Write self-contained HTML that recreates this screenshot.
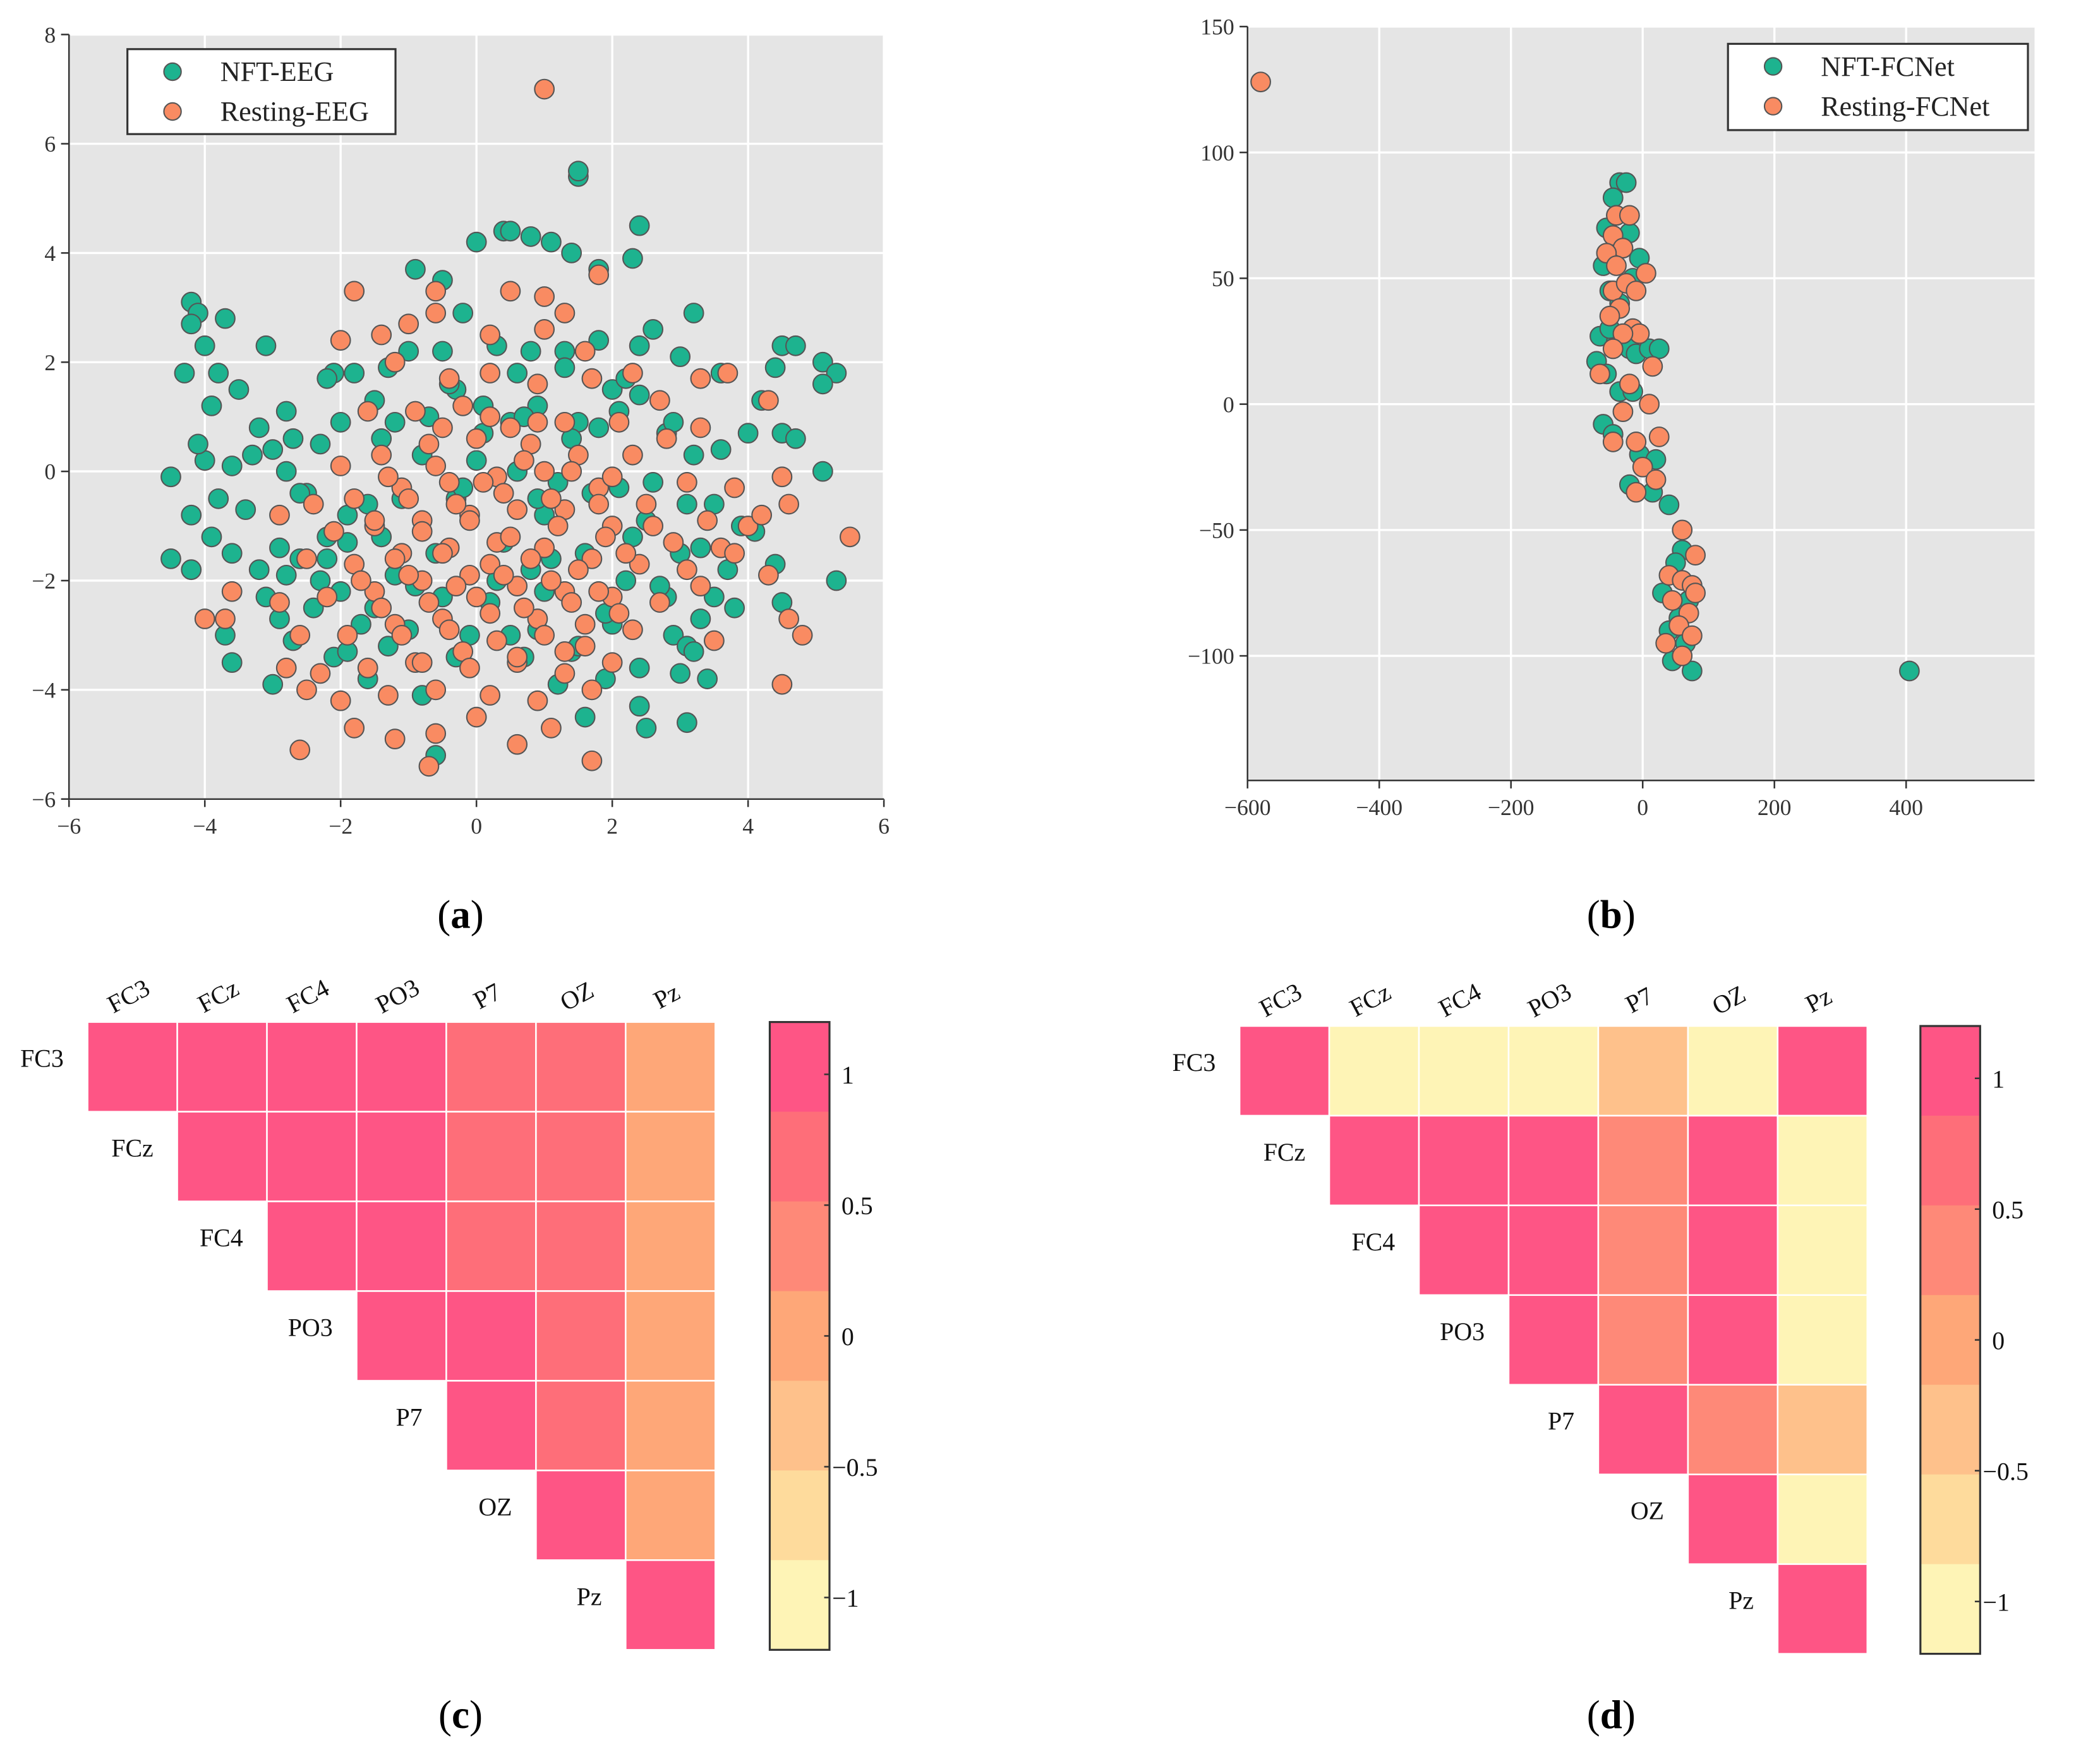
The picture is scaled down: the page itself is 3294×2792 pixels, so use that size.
<!DOCTYPE html>
<html><head><meta charset="utf-8"><style>
html,body{margin:0;padding:0;background:#fff;}
svg{display:block;}
text{font-family:"Liberation Serif",serif;}
</style></head><body>
<svg id="root" xmlns="http://www.w3.org/2000/svg" width="3294" height="2792" viewBox="0 0 1568 1329">
<g id="pa"></g>
<g id="pb"></g>
<g id="pc"></g>
<g id="pd"></g>
<text x="347" y="699" font-size="30" text-anchor="middle">(<tspan font-weight="bold">a</tspan>)</text>
<text x="1214" y="699" font-size="30" text-anchor="middle">(<tspan font-weight="bold">b</tspan>)</text>
<text x="347" y="1302" font-size="30" text-anchor="middle">(<tspan font-weight="bold">c</tspan>)</text>
<text x="1214" y="1302" font-size="30" text-anchor="middle">(<tspan font-weight="bold">d</tspan>)</text>
</svg>
<script>
// ---------- Data ----------
const aGreenX=[1.5,1.5,2.4,0.4,0.5,0.8,1.1,1.4,0,2.3,-0.9,-0.5,1.8,-4.2,-4.1,-4.2,-3.7,-3.1,-4.0,-4.3,-3.8,-3.5,-3.9,-3.2,-2.8,-3.0,-3.6,-4.0,-4.5,-3.8,-4.2,-3.6,-4.5,-4.2,-3.2,-2.8,-2.9,-3.7,-3.6,-3.0,-2.4,-2.2,-2.5,-2.3,-2.1,-1.8,-1.5,-1.2,-0.8,-1.0,-0.5,0.3,0.8,1.3,1.8,2.4,2.6,3.2,3.0,3.6,4.0,4.4,4.5,4.7,5.1,5.3,5.1,4.5,4.7,5.1,3.2,2.8,2.4,1.8,1.5,0.9,0.5,0.1,-0.3,0.0,0.6,1.2,2.1,2.6,3.5,3.3,4.4,3.7,5.3,4.5,3.8,3.3,2.9,3.1,3.4,3.0,3.1,2.4,2.5,1.9,1.2,1.4,0.9,0.5,-0.3,-0.6,-0.8,-1.3,-1.7,-2.0,-1.9,-1.6,-2.6,-2.8,-1.2,0.8,1.6,2.2,2.8,2.0,0.3,-0.5,-0.3,1.0,2.0,-1.6,-2.1,1.6,-0.2,
 -4.1,-3.3,-2.7,-2.0,-1.4,-0.7,0.1,0.7,1.4,2.1,2.9,3.6,4.2,-3.4,-2.6,-1.9,-1.1,-0.2,0.9,1.7,2.5,3.1,3.9,-3.9,-2.9,-2.2,-1.4,-0.6,0.4,1.1,2.3,3.0,4.1,-3.1,-2.3,-1.5,-0.9,0.2,1.0,1.9,2.7,3.5,-2.7,-1.9,-1.0,-0.1,0.7,1.5,2.4,3.2,-2.2,-1.3,-0.4,0.6,1.3,2.2];
const aGreenY=[5.4,5.5,4.5,4.4,4.4,4.3,4.2,4.0,4.2,3.9,3.7,3.5,3.7,3.1,2.9,2.7,2.8,2.3,2.3,1.8,1.8,1.5,1.2,0.8,1.1,0.4,0.1,0.2,-0.1,-0.5,-0.8,-1.5,-1.6,-1.8,-1.8,-1.9,-2.7,-3.0,-3.5,-3.9,-2.5,-1.2,-0.4,0.5,1.8,1.8,1.3,0.9,0.3,2.2,2.2,2.3,2.2,2.2,2.4,2.3,2.6,2.9,2.1,1.8,0.7,1.9,2.3,2.3,2.0,1.8,1.6,0.7,0.6,0,0.3,0.7,1.4,0.8,0.9,1.2,0.9,1.2,1.5,0.2,0.0,-0.2,-0.3,-0.2,-0.6,-1.4,-1.7,-1.8,-2.0,-2.4,-2.5,-2.7,-3.0,-3.2,-3.8,-3.7,-4.6,-4.3,-4.7,-3.8,-3.9,-3.3,-2.9,-3.0,-3.4,-5.2,-4.1,-3.2,-2.8,-2.2,-1.3,-0.6,-1.6,0.0,-1.9,-1.8,-1.5,-2.0,-2.3,-2.8,-2.0,-2.3,-0.5,-0.8,1.5,-3.8,-3.4,-4.5,2.9,
 0.5,0.3,0.6,0.9,0.6,1.0,0.7,1.0,0.6,1.1,0.9,0.4,1.3,-0.7,-0.4,-0.8,-0.5,-0.3,-0.5,-0.4,-0.9,-0.6,-1.0,-1.2,-1.4,-1.6,-1.2,-1.5,-1.3,-1.6,-1.2,-1.5,-1.1,-2.3,-2.0,-2.5,-2.1,-2.4,-2.2,-2.6,-2.1,-2.3,-3.1,-3.3,-2.9,-3.0,-3.4,-3.2,-3.6,-3.3,1.7,1.9,1.6,1.8,1.9,1.7];
const aOrangeX=[1,-1.8,0.5,-0.6,1.0,1.3,1.8,-0.6,-1.4,-2,-1.0,0.2,1.0,1.6,2.3,3.3,3.7,4.3,-1.2,-0.4,0.2,0.9,1.7,2.7,3.3,-1.6,-0.9,-0.2,0.5,1.3,2.1,2.8,-2.0,-1.4,-0.7,0,0.8,1.5,2.3,3.1,3.8,4.5,4.6,-2.4,-1.8,-1.1,-0.4,0.3,1.0,1.8,2.5,3.4,4.0,-2.9,-2.1,-1.5,-0.8,-0.1,0.6,1.3,2.0,2.9,3.6,-2.5,-1.8,-1.1,-0.4,0.3,1.0,1.7,2.4,3.1,4.3,-4.0,-3.7,-3.6,-2.9,-2.2,-1.5,-0.8,-0.1,0.6,1.3,2.0,2.7,3.3,4.6,-2.6,-1.9,-1.2,-0.5,0.2,0.9,1.6,2.3,3.5,4.8,-2.8,-2.3,-1.6,-0.9,-0.2,0.6,1.3,2.0,4.5,-2.5,-2.0,-1.3,-0.6,0.2,0.9,1.7,-2.6,-1.8,-1.2,-0.6,0,0.6,1.1,1.7,-0.7,5.5,3.8,4.2,
 -1.3,-0.6,0.1,0.7,1.4,2.0,-1.0,-0.3,0.4,1.1,1.8,-1.5,-0.8,-0.1,0.5,1.2,1.9,2.6,-1.2,-0.5,0.2,0.8,1.5,2.2,-1.7,-1.0,-0.3,0.4,1.1,1.8,-1.4,-0.7,0.0,0.7,1.4,2.1,-1.1,-0.4,0.3,1.0,1.6,-0.8,-0.1,0.6,1.3,-0.5,0.2,0.9];
const aOrangeY=[7,3.3,3.3,3.3,3.2,2.9,3.6,2.9,2.5,2.4,2.7,2.5,2.6,2.2,1.8,1.7,1.8,1.3,2.0,1.7,1.8,1.6,1.7,1.3,0.8,1.1,1.1,1.2,0.8,0.9,0.9,0.6,0.1,0.3,0.5,0.6,0.5,0.3,0.3,-0.2,-0.3,-0.1,-0.6,-0.6,-0.5,-0.3,-0.2,-0.1,0.0,-0.3,-0.6,-0.9,-1.0,-0.8,-1.1,-1.0,-0.9,-0.8,-0.7,-0.7,-1.0,-1.3,-1.4,-1.6,-1.7,-1.5,-1.4,-1.3,-1.4,-1.6,-1.7,-1.8,-1.9,-2.7,-2.7,-2.2,-2.4,-2.3,-2.2,-2.0,-1.9,-2.1,-2.2,-2.3,-2.4,-2.1,-2.7,-3.0,-3.0,-2.8,-2.7,-2.6,-2.7,-2.8,-2.9,-3.1,-3.0,-3.6,-3.7,-3.6,-3.5,-3.3,-3.5,-3.3,-3.5,-3.9,-4.0,-4.2,-4.1,-4.0,-4.1,-4.2,-4.0,-5.1,-4.7,-4.9,-4.8,-4.5,-5.0,-4.7,-5.3,-5.4,-1.2,-1.5,-0.8,
 -0.1,0.1,-0.2,0.2,0.0,-0.1,-0.5,-0.6,-0.4,-0.5,-0.6,-0.9,-1.1,-0.9,-1.2,-1.0,-1.2,-1.0,-1.6,-1.5,-1.7,-1.6,-1.8,-1.5,-2.0,-1.9,-2.1,-1.9,-2.0,-2.2,-2.5,-2.4,-2.3,-2.5,-2.4,-2.6,-3.0,-2.9,-3.1,-3.0,-3.2,-3.5,-3.6,-3.4,-3.7,0.8,1.0,0.9];
const aXTicks=[-6,-4,-2,0,2,4,6];
const aYTicks=[-6,-4,-2,0,2,4,6,8];

const bGreenX=[-35,-25,-45,-40,-55,-20,-30,-60,-5,-50,-35,-65,-40,-20,-10,10,-70,-55,-35,-15,-60,-45,-5,20,-20,15,40,60,50,30,70,55,40,65,45,75,405,25,-15,-50];
const bGreenY=[88,88,82,75,70,68,62,55,58,45,40,27,25,22,20,22,17,12,5,5,-8,-12,-20,-22,-32,-35,-40,-58,-63,-75,-78,-85,-90,-95,-102,-106,-106,22,50,30];
const bOrangeX=[-580,-40,-20,-45,-30,-55,-40,5,-45,-25,-10,-35,-50,-15,-5,-30,-45,15,-65,-20,10,-30,-45,-10,25,0,20,-10,60,80,40,60,75,45,80,70,55,75,35,60];
const bOrangeY=[128,75,75,67,62,60,55,52,45,48,45,38,35,30,28,28,22,15,12,8,0,-3,-15,-15,-13,-25,-30,-35,-50,-60,-68,-70,-72,-78,-75,-83,-88,-92,-95,-100];
const bXTicks=[-600,-400,-200,0,200,400];
const bYTicks=[-100,-50,0,50,100,150];

const channels=["FC3","FCz","FC4","PO3","P7","OZ","Pz"];
const cRow0=[1,1,1,1,0.65,0.65,0];
const cRow1=[1,1,1,0.65,0.65,0];
const cRow2=[1,1,0.65,0.65,0];
const cRow3=[1,1,0.65,0];
const cRow4=[1,0.65,0];
const cRow5=[1,0];
const cRow6=[1];
const dRow0=[1,-1,-1,-1,-0.4,-1,1];
const dRow1=[1,1,1,0.3,1,-1];
const dRow2=[1,1,0.3,1,-1];
const dRow3=[1,0.3,1,-1];
const dRow4=[1,0.3,-0.4];
const dRow5=[1,-1];
const dRow6=[1];
const cbTicks=[1,0.5,0,-0.5,-1];
const cbColors=["#fe5585","#fe6e79","#fe8978","#fea778","#fec18b","#fedb9c","#fef4b6"];

// ---------- Helpers ----------
const NS="http://www.w3.org/2000/svg";
function mk(tag,attrs,parent,txt){const e=document.createElementNS(NS,tag);for(const k in attrs)e.setAttribute(k,attrs[k]);if(txt!==undefined)e.textContent=txt;parent.appendChild(e);return e;}
function fmt(v){return v<0?"\u2212"+Math.abs(v):String(v);}

// ---------- Scatter ----------
function scatter(g,o){
  const sx=v=>o.x0+(v-o.xmin)/(o.xmax-o.xmin)*(o.x1-o.x0);
  const sy=v=>o.y1-(v-o.ymin)/(o.ymax-o.ymin)*(o.y1-o.y0);
  const bg=mk('rect',{x:o.x0,y:o.y0,width:o.x1-o.x0,height:o.y1-o.y0,fill:'#e5e5e5'},g);
  
  
  o.xt.forEach(t=>{const X=sx(t);
    const l=mk('line',{x1:X,x2:X,y1:o.y0,y2:o.y1,stroke:'#fff','stroke-width':1.6},g);
    
    
    const tk=mk('line',{x1:X,x2:X,y1:o.y1,y2:o.y1+6,stroke:'#333','stroke-width':1.2},g);
    
    
    const tx=mk('text',{x:X,y:o.y1+26,'font-size':17,'text-anchor':'middle',fill:'#333'},g,fmt(t));
    
    
  });
  o.yt.forEach(t=>{const Y=sy(t);
    const l=mk('line',{x1:o.x0,x2:o.x1,y1:Y,y2:Y,stroke:'#fff','stroke-width':1.6},g);
    
    
    const tk=mk('line',{x1:o.x0-6,x2:o.x0,y1:Y,y2:Y,stroke:'#333','stroke-width':1.2},g);
    
    
    const tx=mk('text',{x:o.x0-10,y:Y+6,'font-size':17,'text-anchor':'end',fill:'#333'},g,fmt(t));
    
    
  });
  const ax=mk('path',{d:`M${o.x0} ${o.y0}V${o.y1}H${o.x1}`,fill:'none',stroke:'#333','stroke-width':1.2},g);
  
  
  o.series.forEach(s=>{
    for(let i=0;i<s.x.length;i++){
      const c=mk('circle',{cx:sx(s.x[i]),cy:sy(s.y[i]),r:7.3,fill:s.color,stroke:'#555','stroke-width':1},g);
      
      
    }
  });
  const L=o.legend;
  const lb=mk('rect',{x:L.x,y:L.y,width:L.w,height:L.h,fill:'#fff',stroke:'#333','stroke-width':1.5},g);
  
  
  o.series.forEach((s,i)=>{
    const cy=L.y+17+i*30;
    const c=mk('circle',{cx:L.x+34,cy:cy,r:6.5,fill:s.color,stroke:'#555','stroke-width':1},g);
    
    
    const t=mk('text',{x:L.x+70,y:cy+7,'font-size':21,fill:'#222'},g,s.label);
    
    
  });
}
const G='#1db38f',O='#f98b62';
scatter(document.getElementById('pa'),{x0:52,x1:666,y0:26,y1:602,xmin:-6,xmax:6,ymin:-6,ymax:8,xt:aXTicks,yt:aYTicks,
  series:[{x:aGreenX,y:aGreenY,color:G,name:'nft-eeg',label:'NFT-EEG'},{x:aOrangeX,y:aOrangeY,color:O,name:'resting-eeg',label:'Resting-EEG'}],
  legend:{x:96,y:37,w:202,h:64}});
scatter(document.getElementById('pb'),{x0:940,x1:1533,y0:20,y1:588,xmin:-600,xmax:595,ymin:-149.5,ymax:150,xt:bXTicks,yt:bYTicks,
  series:[{x:bGreenX,y:bGreenY,color:G,name:'nft-fcnet',label:'NFT-FCNet'},{x:bOrangeX,y:bOrangeY,color:O,name:'resting-fcnet',label:'Resting-FCNet'}],
  legend:{x:1302,y:33,w:226,h:65}});

// ---------- Heatmaps ----------
function colorFor(v){let k=Math.floor((1.2-v)/(2.4/7));k=Math.max(0,Math.min(6,k));return cbColors[k];}
function heat(g,rows,o){
  const cs=o.size/7;
  rows.forEach((row,i)=>{
    row.forEach((v,k)=>{const j=i+k;
      const r=mk('rect',{x:o.x+j*cs,y:o.y+i*cs,width:cs,height:cs,fill:colorFor(v),stroke:'#fff','stroke-width':1.2},g);
      
      
    });
    const t=mk('text',{x:o.x+i*cs-18,y:o.y+i*cs+cs/2,'font-size':19,'text-anchor':'end',fill:'#111'},g,channels[i]);
    
    
  });
  channels.forEach((c,j)=>{
    const X=o.x+j*cs+cs/2, Y=o.y-14;
    const t=mk('text',{x:X,y:Y,'font-size':19,'text-anchor':'middle',fill:'#111',transform:`rotate(-28 ${X} ${Y})`},g,c);
    
    
  });
  const bx=o.cbx,bw=45,bh=o.size,by=o.y;
  cbColors.forEach((col,k)=>{
    const r=mk('rect',{x:bx,y:by+k*bh/7,width:bw,height:bh/7+0.5,fill:col},g);
    
    
  });
  const fr=mk('rect',{x:bx,y:by,width:bw,height:bh,fill:'none',stroke:'#333','stroke-width':1.5},g);
  
  
  cbTicks.forEach(v=>{const Y=by+(1.2-v)/2.4*bh;
    const tk=mk('line',{x1:bx+bw-4,x2:bx+bw,y1:Y,y2:Y,stroke:'#333','stroke-width':1.2},g);
    
    
    const t=mk('text',{x:v<0?bx+bw+2:bx+bw+9,y:Y+7,'font-size':19,fill:'#111'},g,fmt(v));
    
    
  });
}
heat(document.getElementById('pc'),[cRow0,cRow1,cRow2,cRow3,cRow4,cRow5,cRow6],{x:66,y:770,size:473,cbx:580});
heat(document.getElementById('pd'),[dRow0,dRow1,dRow2,dRow3,dRow4,dRow5,dRow6],{x:934,y:773,size:473,cbx:1447});
</script>
</body></html>
